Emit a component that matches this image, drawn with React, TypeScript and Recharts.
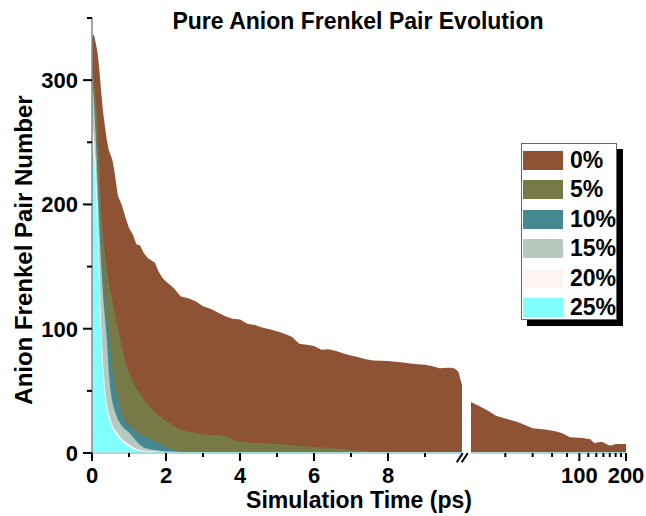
import { ComposedChart, Area, XAxis, YAxis } from 'recharts';

const FONT = '"Liberation Sans", Arial, Helvetica, sans-serif';

const SERIES_NAMES = ['0%', '5%', '10%', '15%', '20%', '25%'];
const SERIES_COLORS = ['#8E5234', '#767A46', '#468892', '#B6C9BE', '#FFF3F3', '#80FFFF'];

// linear part of the time axis (ps)
const TIME_PS = [
  0, 0.05, 0.1, 0.15, 0.2, 0.25, 0.3, 0.35, 0.4, 0.45, 0.5, 0.55, 0.6,
  0.7, 0.8, 0.9, 1.0, 1.1, 1.2, 1.3, 1.4, 1.5, 1.6, 1.7, 1.8, 1.9, 2.0,
  2.2, 2.4, 2.6, 2.8, 3.0, 3.2, 3.4, 3.6, 3.8, 4.0, 4.2, 4.4, 4.6, 4.8, 5.0,
  5.2, 5.4, 5.6, 5.8, 6.0, 6.2, 6.4, 6.6, 6.8, 7.0, 7.2, 7.4, 7.6, 7.8, 8.0,
  8.2, 8.4, 8.6, 8.8, 9.0, 9.2, 9.4, 9.6, 9.7, 9.8, 9.9, 9.95, 10,
];

const PAIRS_0 = [
  335, 337, 330, 322, 308, 290, 274, 263, 252, 244, 240, 236, 228,
  207, 200, 190, 181, 176, 168, 167, 161, 157, 155, 153, 146, 141, 138,
  133, 126, 124.5, 122, 118, 116, 113, 110, 108, 107.5, 104, 103, 101, 99.5, 98,
  96, 93.5, 88, 87, 86, 83, 83.5, 82, 80, 78.5, 77, 75.5, 74.5, 74.3, 74,
  73.5, 72.8, 72, 71.5, 71, 69.8, 68.2, 68.6, 68.5, 68, 65.5, 60, 55,
];
const PAIRS_5 = [
  310, 300, 285, 262, 228, 192, 174, 160, 148, 138, 130, 122, 115,
  100, 86, 74, 65, 58, 52, 48, 43, 39, 36, 33, 30, 28, 26,
  22, 19, 17, 16.3, 15, 14.5, 14.5, 13.5, 11, 9, 8.5, 8.3, 8, 7.5, 7.2,
  6.8, 6, 5.6, 5.2, 4.8, 4.5, 4, 3.5, 3, 2.5, 2, 1.5, 1, 0.6, 0.4,
  0.2, 0,
];
const PAIRS_10 = [
  300, 290, 265, 230, 200, 170, 142, 123, 108, 95, 80, 67, 58,
  44, 31, 25, 22, 20, 17, 15, 13.5, 12, 10.5, 9, 8, 6.5, 5,
  2.5, 1.2, 0.6, 0.4, 0.2, 0,
];
const PAIRS_15 = [
  300, 285, 255, 215, 180, 150, 126, 108, 92, 66, 50, 41, 35,
  27, 22, 19, 16.5, 13, 9.5, 6.5, 4.5, 3.5, 2.8, 2.4, 2, 1.7, 1.5,
  1.2, 0.8, 0.5, 0.3, 0,
];
const PAIRS_20 = [
  268, 255, 232, 200, 150, 100, 72, 53, 40, 32, 27, 23, 20,
  15.5, 11.5, 9, 7, 5, 3.5, 2.5, 2, 1.6, 1.4, 1.2, 1, 0.9, 0.8,
  0.6, 0.5, 0.4, 0.3, 0.2,
];
const PAIRS_25 = [
  255, 240, 215, 178, 125, 85, 62, 44, 34, 28, 24, 20, 17,
  13, 9.5, 7, 5, 3.2, 2.2, 1.6, 1.2, 1, 0.9, 0.8, 0.7, 0.6, 0.5,
];

// log part of the time axis, after the break (ps)
const LONG_TIME_PS = [20, 25, 29, 35, 40, 50, 60, 70, 77, 87, 105, 118, 121, 126, 130, 140, 150, 158, 165, 171, 200];
const LONG_PAIRS_0 = [41, 35, 30, 27, 25, 20, 19, 17.5, 16, 12.6, 12, 11, 9.5, 7.8, 8.5, 9, 7, 6, 6.5, 7.3, 7.3];

const TIME_TICKS = [0, 1, 2, 3, 4, 5, 6, 7, 8, 9];
const TIME_LABELS = [0, 2, 4, 6, 8];
const LONG_TICKS = [33.3, 50, 66.7, 83.3, 100, 114.3, 128.6, 142.9, 157.1, 171.4, 185.7, 200];
const LONG_LABELS = [100, 200];
const PAIR_TICKS = [0, 50, 100, 150, 200, 250, 300, 350];
const PAIR_LABELS = [0, 100, 200, 300];

const SERIES = [PAIRS_0, PAIRS_5, PAIRS_10, PAIRS_15, PAIRS_20, PAIRS_25];
const shortData = TIME_PS.map((t, i) => {
  const row: Record<string, number | undefined> = { t };
  SERIES.forEach((s, k) => {
    row[`s${k}`] = s[i];
  });
  return row;
});
const longData = LONG_TIME_PS.map((t, i) => ({ t, s0: LONG_PAIRS_0[i] }));

const BASE_AXIS = '#A6DADA';

function XTick({ x, y, payload, labels }: any) {
  const major = labels.includes(payload.value);
  return (
    <g>
      <line x1={x} y1={y} x2={x} y2={y + (major ? 8 : 4)} stroke="#000" strokeWidth={2} />
      {major && (
        <text x={x} y={y + 30} textAnchor="middle" fontSize={22} fontWeight="bold" fontFamily={FONT} fill="#000">
          {payload.value}
        </text>
      )}
    </g>
  );
}

function YTick({ x, y, payload }: any) {
  const major = PAIR_LABELS.includes(payload.value);
  return (
    <g>
      <line x1={x} y1={y} x2={x - (major ? 9 : 5)} y2={y} stroke="#000" strokeWidth={2} />
      {major && (
        <text x={x - 14} y={y} dy="0.36em" textAnchor="end" fontSize={22} fontWeight="bold" fontFamily={FONT} fill="#000">
          {payload.value}
        </text>
      )}
    </g>
  );
}

function LegendBox() {
  return (
    <div
      style={{
        position: 'absolute',
        left: 521,
        top: 143,
        width: 94,
        height: 175,
        border: '1px solid #666',
        background: '#fff',
        boxShadow: '6px 6px 0 #000',
        fontFamily: FONT,
      }}
    >
      {SERIES_NAMES.map((name, i) => (
        <div key={name} style={{ position: 'absolute', left: 1, top: 7 + i * 29.4, height: 19, display: 'flex', alignItems: 'center' }}>
          <div style={{ width: 40, height: 19, background: SERIES_COLORS[i] }} />
          <span style={{ marginLeft: 7, fontSize: 23, fontWeight: 'bold', color: '#000', lineHeight: '19px' }}>{name}</span>
        </div>
      ))}
    </div>
  );
}

export default function App() {
  return (
    <div style={{ position: 'absolute', left: 0, top: 0, width: 646, height: 516, background: '#fff', fontFamily: FONT }}>
      <div style={{ position: 'absolute', left: 0, top: 0 }}>
        <ComposedChart width={646} height={516} data={shortData} margin={{ top: 18, right: 184, bottom: 0, left: 0 }}>
          {SERIES.map((_, k) => (
            <Area
              key={k}
              dataKey={`s${k}`}
              name={SERIES_NAMES[k]}
              type="linear"
              stroke="none"
              fill={SERIES_COLORS[k]}
              fillOpacity={1}
              dot={false}
              activeDot={false}
              isAnimationActive={false}
            />
          ))}
          <XAxis
            dataKey="t"
            type="number"
            domain={[0, 10]}
            ticks={TIME_TICKS}
            interval={0}
            height={63}
            tickSize={0}
            tickMargin={0}
            tickLine={false}
            tick={<XTick labels={TIME_LABELS} />}
            axisLine={{ stroke: BASE_AXIS, strokeWidth: 2 }}
            allowDataOverflow
          />
          <YAxis
            type="number"
            domain={[0, 350]}
            ticks={PAIR_TICKS}
            interval={0}
            width={92}
            tickSize={0}
            tickMargin={0}
            tickLine={false}
            tick={<YTick />}
            axisLine={{ stroke: '#888', strokeWidth: 1.5 }}
            allowDataOverflow
          />
        </ComposedChart>
      </div>

      <div style={{ position: 'absolute', left: 0, top: 0 }}>
        <ComposedChart width={646} height={516} data={longData} margin={{ top: 18, right: 20, bottom: 0, left: 471 }}>
          <Area
            dataKey="s0"
            name={SERIES_NAMES[0]}
            type="linear"
            stroke="none"
            fill={SERIES_COLORS[0]}
            fillOpacity={1}
            dot={false}
            activeDot={false}
            isAnimationActive={false}
          />
          <XAxis
            dataKey="t"
            type="number"
            scale="log"
            domain={[20, 200]}
            ticks={LONG_TICKS}
            interval={0}
            height={63}
            tickSize={0}
            tickMargin={0}
            tickLine={false}
            tick={<XTick labels={LONG_LABELS} />}
            axisLine={{ stroke: BASE_AXIS, strokeWidth: 2 }}
            allowDataOverflow
          />
          <YAxis type="number" domain={[0, 350]} hide width={0} allowDataOverflow />
        </ComposedChart>
      </div>

      {/* titles and axis break */}
      <svg width={646} height={516} style={{ position: 'absolute', left: 0, top: 0, pointerEvents: 'none' }}>
        <text x={358} y={29} textAnchor="middle" fontSize={23} fontWeight="bold" fontFamily={FONT} fill="#000">
          Pure Anion Frenkel Pair Evolution
        </text>
        <text x={359} y={508} textAnchor="middle" fontSize={23} fontWeight="bold" fontFamily={FONT} fill="#000">
          Simulation Time (ps)
        </text>
        <text
          x={0}
          y={0}
          transform="translate(32 250) rotate(-90)"
          textAnchor="middle"
          fontSize={24}
          fontWeight="bold"
          fontFamily={FONT}
          fill="#000"
        >
          Anion Frenkel Pair Number
        </text>
        <line x1={456.7} y1={462.3} x2={462.7} y2={453.3} stroke="#000" strokeWidth={2} />
        <line x1={461.7} y1={462.3} x2={467.7} y2={453.3} stroke="#000" strokeWidth={2} />
      </svg>

      <LegendBox />
    </div>
  );
}
